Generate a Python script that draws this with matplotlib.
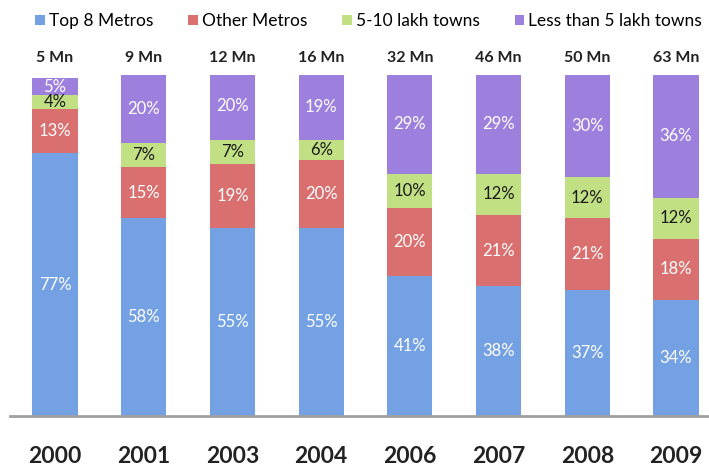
import numpy as np
import matplotlib
matplotlib.use("Agg")
import matplotlib.pyplot as plt
from matplotlib.patches import Patch

plt.rcParams['font.family'] = ['Lato', 'DejaVu Sans']

years = ["2000", "2001", "2003", "2004", "2006", "2007", "2008", "2009"]
totals = ["5 Mn", "9 Mn", "12 Mn", "16 Mn", "32 Mn", "46 Mn", "50 Mn", "63 Mn"]
series_names = ["Top 8 Metros", "Other Metros", "5-10 lakh towns", "Less than 5 lakh towns"]
top8 = [77, 58, 55, 55, 41, 38, 37, 34]
other = [13, 15, 19, 20, 20, 21, 21, 18]
mid_towns = [4, 7, 7, 6, 10, 12, 12, 12]
small_towns = [5, 20, 20, 19, 29, 29, 30, 36]

colors = ["#74a1e4", "#d9706f", "#c1e084", "#9d80de"]
text_colors = ["white", "white", "#1a1a1a", "white"]

fig = plt.figure(figsize=(7.09, 4.68), dpi=100)
ax = fig.add_axes([10 / 709, 52 / 468, 699 / 709, 341 / 468])

x = np.arange(len(years))
bottom = np.zeros(len(years))
for vals, col, tcol in zip([top8, other, mid_towns, small_towns], colors, text_colors):
    vals = np.array(vals)
    ax.bar(x, vals, width=0.51, bottom=bottom, color=col)
    for xi, b, v in zip(x, bottom, vals):
        ax.text(xi, b + v / 2, f"{v}%", ha="center", va="center",
                color=tcol, fontsize=12)
    bottom += vals

for xi, t in zip(x, totals):
    ax.text(xi, 103, t, ha="center", va="bottom", fontsize=11.5,
            fontweight="bold", color="#222222", clip_on=False)

ax.set_xlim(-0.507, 7.372)
ax.set_ylim(0, 100)
ax.set_xticks(x)
ax.set_xticklabels(years, fontsize=16.5, fontweight="bold", color="#222222")
ax.tick_params(axis="x", length=0, pad=21.5)
ax.set_yticks([])
for s in ["top", "left", "right"]:
    ax.spines[s].set_visible(False)
ax.spines["bottom"].set_color("#a0a0a0")
ax.spines["bottom"].set_linewidth(2)

handles = [Patch(facecolor=c, label=n) for c, n in zip(colors, series_names)]
fig.legend(handles=handles, loc="upper center", bbox_to_anchor=(0.52, 1.005),
           ncol=4, frameon=False, fontsize=12.5, handlelength=0.55, handleheight=0.55,
           handletextpad=0.25, columnspacing=2.0)

fig.savefig("out.png", dpi=100)
